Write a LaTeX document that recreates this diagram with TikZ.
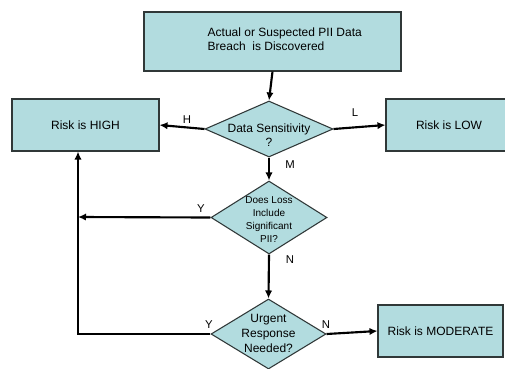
\documentclass[tikz,border=0pt]{standalone}
\usepackage{fontspec}
\setmainfont{Liberation Sans}
\usetikzlibrary{shapes.geometric,arrows.meta}
\definecolor{boxfill}{HTML}{B2DCDF}
\definecolor{edge}{HTML}{303838}

\begin{document}
\begin{tikzpicture}[x=0.75pt, y=-0.75pt,
    stepbox/.style={draw=edge, line width=0.8pt, fill=boxfill, inner sep=0pt, font=\fontsize{9}{10.5}\selectfont},
    decision/.style={diamond, draw=edge, line width=0.8pt, fill=boxfill, inner sep=0pt},
    flow/.style={line width=1.6pt, -{Latex[length=6pt,width=5.5pt]}},
    branch/.style={font=\fontsize{8.5}{10}\selectfont}]
    \useasboundingbox (0,0) rectangle (505,368);
    \clip (0,0) rectangle (505,368);
    \fill[white] (0,0) rectangle (505,368);
    % boxes
    \node[stepbox, minimum width=257*0.75pt, minimum height=59*0.75pt] (breach) at (272.5,41.5) {};
    \node[font=\fontsize{9}{10.5}\selectfont, align=left, anchor=west] (breachtext) at (203,39) {Actual or Suspected PII Data\\Breach\ \ is Discovered};
    \node[stepbox, minimum width=147*0.75pt, minimum height=52*0.75pt] (high) at (85.5,125) {Risk is HIGH};
    \node[stepbox, minimum width=126*0.75pt, minimum height=52*0.75pt] (low) at (449,125) {Risk is LOW};
    \node[stepbox, minimum width=125*0.75pt, minimum height=52*0.75pt] (moderate) at (440.5,331) {Risk is MODERATE};
    % decisions
    \node[decision, minimum width=128*0.75pt, minimum height=56*0.75pt] (sens) at (269,129) {};
    \node[align=center, font=\fontsize{9}{11}\selectfont] (senstext) at (269,135) {Data Sensitivity\\?};
    \node[decision, minimum width=116*0.75pt, minimum height=73*0.75pt] (loss) at (269,217.5) {};
    \node[align=center, font=\fontsize{7.5}{9.75}\selectfont] (losstext) at (269,219.5) {Does Loss\\Include\\Significant\\PII?};
    \node[decision, minimum width=115*0.75pt, minimum height=70*0.75pt] (urgent) at (268.5,334) {};
    \node[align=center, font=\fontsize{9}{11.25}\selectfont] (urgenttext) at (268.5,333) {Urgent\\Response\\Needed?};
    % connectors
    \coordinate (join) at (78,217);
    \coordinate (corner) at (78,334);
    \draw[flow] (breach.south) -- (sens.north);
    \draw[flow] (sens.west) -- (high.east);
    \draw[flow] (sens.east) -- (low.west);
    \draw[flow] (sens.south) -- (loss.north);
    \draw[flow] (loss.west) -- (join);
    \draw[flow] (loss.south) -- (urgent.north);
    \draw[flow] (urgent.west) -- (corner) -- (corner |- high.south);
    \draw[flow] (urgent.east) -- (moderate.west);
    % branch labels
    \node[branch] (lh) at (187,120) {H};
    \node[branch] (ll) at (355,113) {L};
    \node[branch] (lm) at (290,165) {M};
    \node[branch] (ly1) at (201,209) {Y};
    \node[branch] (ln1) at (290,260) {N};
    \node[branch] (ly2) at (209,325) {Y};
    \node[branch] (ln2) at (326,325) {N};
\end{tikzpicture}
\end{document}
